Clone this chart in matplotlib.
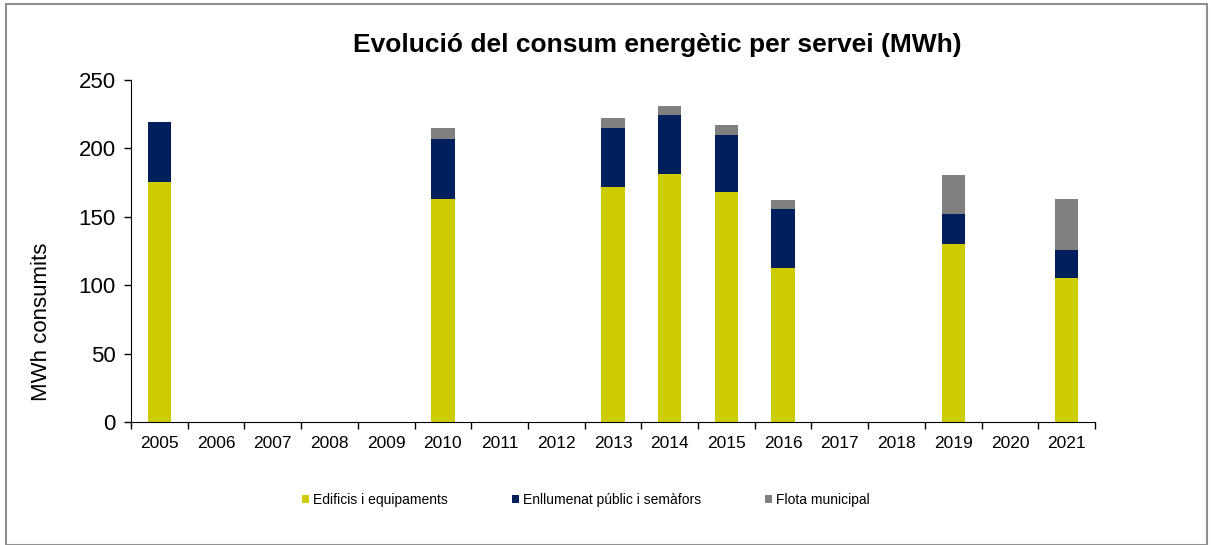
import numpy as np
import matplotlib.pyplot as plt
from matplotlib.patches import Rectangle

plt.rcParams['font.family'] = ['Liberation Sans', 'DejaVu Sans']

# Data (MWh)
years = [str(y) for y in range(2005, 2022)]
data_years = ['2005', '2010', '2013', '2014', '2015', '2016', '2019', '2021']
edificis = [175.2, 163.0, 171.6, 181.0, 167.9, 112.3, 130.4, 105.0]
enllumenat = [44.1, 44.1, 43.1, 43.2, 42.1, 43.2, 21.4, 20.7]
flota = [0.0, 7.6, 7.3, 6.8, 6.9, 6.8, 28.5, 37.3]

labels = ['Edificis i equipaments', 'Enllumenat públic i semàfors', 'Flota municipal']
colors = ['#cccc00', '#001f5c', '#808080']

# Fill full year range (missing years are empty)
def full(vals):
    out = np.zeros(len(years))
    for y, v in zip(data_years, vals):
        out[years.index(y)] = v
    return out

e = full(edificis)
n = full(enllumenat)
f = full(flota)

fig = plt.figure(figsize=(12.13, 5.45), dpi=100)
ax = fig.add_axes([131/1213, 1 - 422/545, (1095-131)/1213, (422-80)/545])

x = np.arange(len(years))
w = 0.41
ax.bar(x, e, w, color=colors[0], label=labels[0])
ax.bar(x, n, w, bottom=e, color=colors[1], label=labels[1])
ax.bar(x, f, w, bottom=e + n, color=colors[2], label=labels[2])

ax.set_xlim(-0.5, len(years) - 0.5)
ax.set_ylim(0, 250)
ax.set_yticks(np.arange(0, 251, 50))
ax.set_xticks(x)
ax.set_xticklabels(years, fontsize=12.5)
ax.set_xticks(np.arange(-0.5, len(years), 1), minor=True)
ax.tick_params(axis='x', which='major', length=0, pad=10)
ax.tick_params(axis='x', which='minor', length=5, width=1)
ax.tick_params(axis='y', labelsize=16, length=5, width=1, pad=6)
ax.spines['top'].set_visible(False)
ax.spines['right'].set_visible(False)
ax.set_ylabel('MWh consumits', fontsize=16)
ax.yaxis.set_label_coords((52-131)/964, (422-322)/342)

fig.text(657/1213, 1 - 45/545, 'Evolució del consum energètic per servei (MWh)',
         ha='center', va='center', fontsize=19, fontweight='bold')

fig.legend(loc='center', bbox_to_anchor=(586/1213, 1 - 500/545), ncol=3,
           frameon=False, fontsize=10, handlelength=0.5, handleheight=0.5,
           handletextpad=0.3, columnspacing=4.6)

fig.patches.append(Rectangle((6/1213, 0), 1201/1213, 1 - 4/545, transform=fig.transFigure,
                             fill=False, edgecolor='#909090', linewidth=1.5))

fig.savefig('out.png', dpi=100)
